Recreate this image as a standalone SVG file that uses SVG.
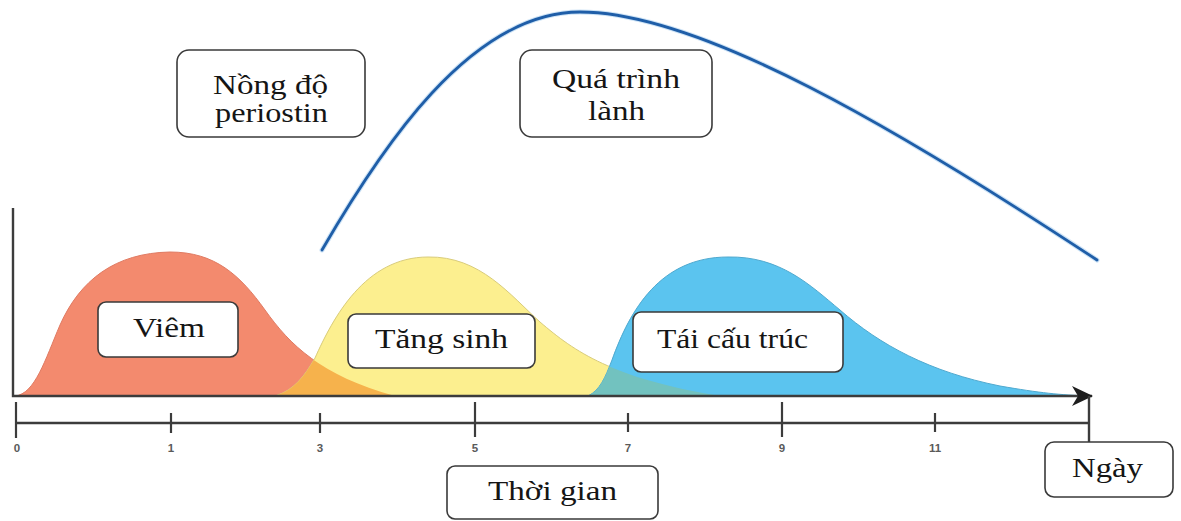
<svg xmlns="http://www.w3.org/2000/svg" width="1181" height="521" viewBox="0 0 1181 521">
  <defs>
    <style>
      .box { fill: #ffffff; stroke: #3a3a3a; stroke-width: 1.6; }
      .lbl { font-family: "Liberation Serif", "Times New Roman", serif; font-size: 27px; fill: #151515; }
      .tick { stroke: #3c3c3c; stroke-width: 2.2; }
      .num { font-family: "Liberation Sans", Arial, sans-serif; font-size: 11.5px; font-weight: bold; fill: #5a5a5a; text-anchor: middle; }
      .axis { stroke: #3c3c3c; stroke-width: 2.4; fill: none; }
    </style>
    <path id="redShape" d="M 15 396 C 35 394, 45 360, 60 325 C 80 280, 115 253, 170 252 C 215 252, 240 275, 265 310 C 290 345, 320 375, 395 396 Z"/>
    <path id="yellowShape" d="M 275 396 C 295 390, 305 375, 315 358 C 333 318, 365 257, 428 257 C 480 256, 510 295, 540 322 C 575 352, 612 378, 720 396 Z"/>
    <path id="blueShape" d="M 588 396 C 600 390, 605 378, 612 360 C 630 310, 660 257, 728 257 C 780 256, 810 285, 840 310 C 880 345, 930 372, 1000 386 C 1040 393, 1060 395, 1090 396 Z"/>
    <clipPath id="clipRed"><use href="#redShape"/></clipPath>
    <clipPath id="clipYellow"><use href="#yellowShape"/></clipPath>
    <marker id="arrowHead" viewBox="0 0 22 22" refX="20" refY="11" markerWidth="22" markerHeight="22" markerUnits="userSpaceOnUse" orient="auto">
      <path d="M 0 1 L 21 11 L 0 21 L 6 11 Z" fill="#1e1e1e"/>
    </marker>
  </defs>

  <rect width="1181" height="521" fill="#ffffff"/>

  <!-- phase curves -->
  <g id="phases">
    <use href="#redShape" fill="#f38a6e" stroke="#e07b63" stroke-width="1"/>
    <use href="#yellowShape" fill="#fcef8f" stroke="#d9cc7c" stroke-width="1"/>
    <use href="#blueShape" fill="#5bc4ef" stroke="#4fa9cf" stroke-width="1"/>
    <!-- overlapping regions -->
    <use href="#yellowShape" fill="#f6b24c" clip-path="url(#clipRed)"/>
    <use href="#blueShape" fill="#72c2bf" clip-path="url(#clipYellow)"/>
  </g>

  <!-- healing process curve -->
  <g id="healing-curve">
    <path d="M 322 250 C 380 150, 470 12, 580 12 C 700 12, 900 130, 1097 260" fill="none" stroke="#9cc8ee" stroke-width="5" stroke-linecap="round" opacity="0.5"/>
    <path d="M 322 250 C 380 150, 470 12, 580 12 C 700 12, 900 130, 1097 260" fill="none" stroke="#1f5ea8" stroke-width="2.8" stroke-linecap="round"/>
  </g>

  <!-- axes and time scale -->
  <g id="connectors">
    <path class="axis" d="M 13 208 L 13 396 L 1092 396" marker-end="url(#arrowHead)"/>
    <line class="axis" x1="16" y1="423" x2="1089" y2="423" stroke-width="2"/>
    <line class="axis" x1="1089" y1="396" x2="1089" y2="442" stroke-width="2.6"/>
    <line class="tick" x1="16" y1="402" x2="16" y2="438"/>
    <line class="tick" x1="171" y1="413" x2="171" y2="433"/>
    <line class="tick" x1="320" y1="413" x2="320" y2="433"/>
    <line class="tick" x1="475" y1="402" x2="475" y2="437"/>
    <line class="tick" x1="628" y1="413" x2="628" y2="432"/>
    <line class="tick" x1="782" y1="402" x2="782" y2="437"/>
    <line class="tick" x1="935" y1="413" x2="935" y2="432"/>
    <text class="num" x="17" y="452">0</text>
    <text class="num" x="171" y="452">1</text>
    <text class="num" x="320" y="452">3</text>
    <text class="num" x="475" y="452">5</text>
    <text class="num" x="628" y="452">7</text>
    <text class="num" x="782" y="452">9</text>
    <text class="num" x="935" y="452">11</text>
  </g>

  <!-- label boxes -->
  <g id="periostin">
    <rect class="box" x="177" y="50" width="188" height="87" rx="12"/>
    <text class="lbl" x="213" y="94" textLength="115" lengthAdjust="spacingAndGlyphs">Nồng độ</text>
    <text class="lbl" x="215" y="122" textLength="113" lengthAdjust="spacingAndGlyphs">periostin</text>
  </g>

  <g id="healing">
    <rect class="box" x="520" y="50" width="192" height="87" rx="12"/>
    <text class="lbl" x="552" y="88" textLength="128" lengthAdjust="spacingAndGlyphs">Quá trình</text>
    <text class="lbl" x="588" y="120" textLength="57" lengthAdjust="spacingAndGlyphs">lành</text>
  </g>

  <g id="viem">
    <rect class="box" x="98" y="302" width="140" height="55" rx="8"/>
    <text class="lbl" x="133" y="337" textLength="72" lengthAdjust="spacingAndGlyphs">Viêm</text>
  </g>

  <g id="tang-sinh">
    <rect class="box" x="348" y="314" width="187" height="54" rx="8"/>
    <text class="lbl" x="375" y="348" textLength="133" lengthAdjust="spacingAndGlyphs">Tăng sinh</text>
  </g>

  <g id="tai-cau-truc">
    <rect class="box" x="633" y="312" width="210" height="60" rx="8"/>
    <text class="lbl" x="657" y="348" textLength="151" lengthAdjust="spacingAndGlyphs">Tái cấu trúc</text>
  </g>

  <g id="thoi-gian">
    <rect class="box" x="447" y="466" width="211" height="53" rx="8"/>
    <text class="lbl" x="488" y="500" textLength="129" lengthAdjust="spacingAndGlyphs">Thời gian</text>
  </g>

  <g id="ngay">
    <rect class="box" x="1045" y="442" width="128" height="55" rx="9"/>
    <text class="lbl" x="1072" y="477" textLength="71" lengthAdjust="spacingAndGlyphs">Ngày</text>
  </g>
</svg>
